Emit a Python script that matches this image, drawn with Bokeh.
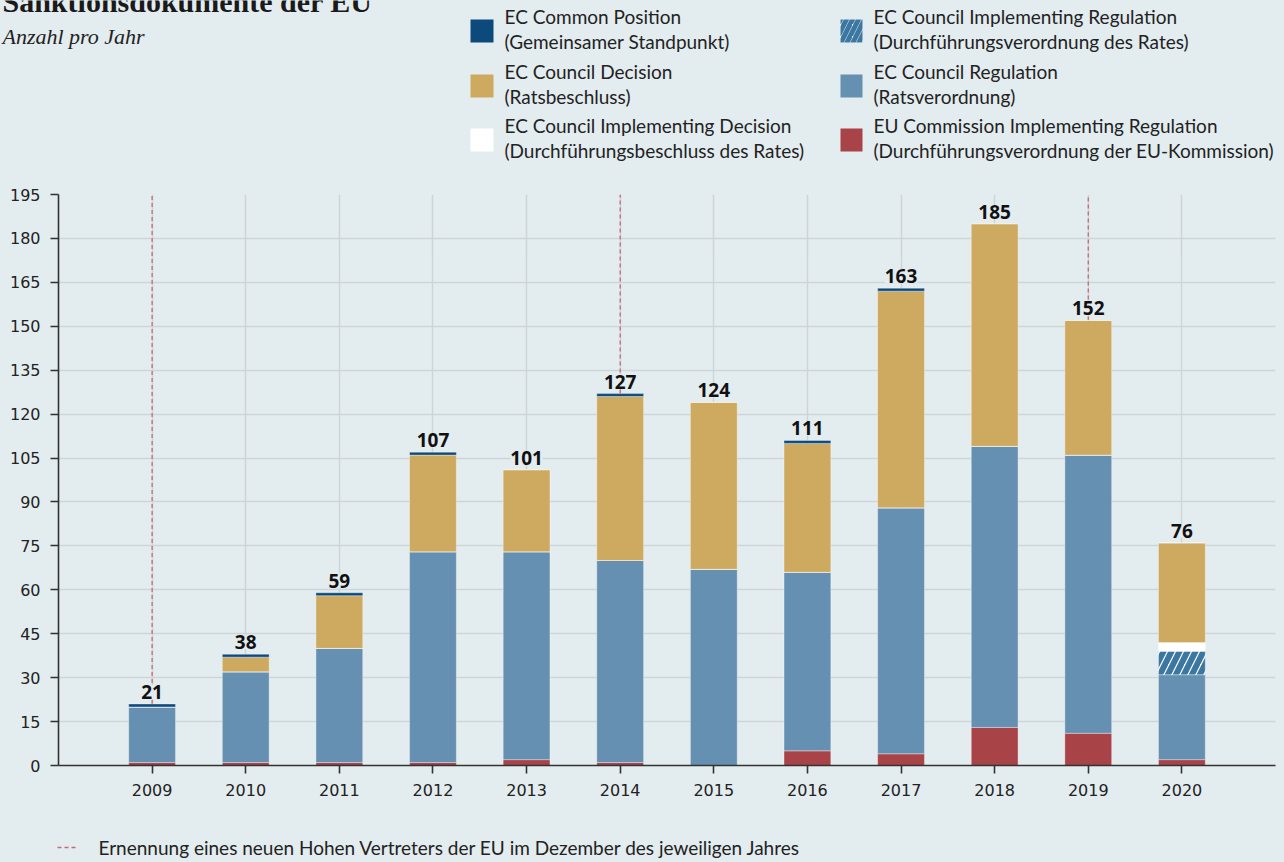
from bokeh.plotting import figure
from bokeh.layouts import column
from bokeh.models import Range1d, FixedTicker, ColumnDataSource, LabelSet
from bokeh.transform import stack
from bokeh.core.properties import value
from bokeh.embed import file_html
from bokeh.resources import INLINE

# ---------------- data ----------------
years = [2009, 2010, 2011, 2012, 2013, 2014, 2015, 2016, 2017, 2018, 2019, 2020]
commission_impl_reg = [1, 1, 1, 1, 2, 1, 0, 5, 4, 13, 11, 2]
council_regulation = [19, 31, 39, 72, 71, 69, 67, 61, 84, 96, 95, 29]
council_impl_reg = [0, 0, 0, 0, 0, 0, 0, 0, 0, 0, 0, 8]
council_impl_dec = [0, 0, 0, 0, 0, 0, 0, 0, 0, 0, 0, 3]
council_decision = [0, 5, 18, 33, 28, 56, 57, 44, 74, 76, 46, 34]
common_position = [1, 1, 1, 1, 0, 1, 0, 1, 1, 0, 0, 0]
totals = [21, 38, 59, 107, 101, 127, 124, 111, 163, 185, 152, 76]
hr_years = [2009, 2014, 2019]
yticks = [0, 15, 30, 45, 60, 75, 90, 105, 120, 135, 150, 165, 180, 195]

title = "Sanktionsdokumente der EU"
subtitle = "Anzahl pro Jahr"
legend_col1 = [("EC Common Position", "(Gemeinsamer Standpunkt)"),
               ("EC Council Decision", "(Ratsbeschluss)"),
               ("EC Council Implementing Decision", "(Durchführungsbeschluss des Rates)")]
legend_col2 = [("EC Council Implementing Regulation", "(Durchführungsverordnung des Rates)"),
               ("EC Council Regulation", "(Ratsverordnung)"),
               ("EU Commission Implementing Regulation", "(Durchführungsverordnung der EU-Kommission)")]
footnote = "Ernennung eines neuen Hohen Vertreters der EU im Dezember des jeweiligen Jahres"

# ---------------- styles ----------------
BG = "#e3ecef"
GRID = "#cdd5d9"
C_CAP = "#0d4a7c"
C_GOLD = "#cdaa5f"
C_BLUE = "#6690b1"
C_RED = "#a84347"
C_WHITE = "#ffffff"
C_HATCH = "#3b77a0"
C_HR = "#c9696e"
SANS = "Lato"
SERIF = "Liberation Serif"

W = 1284
TOP_H = 168
MAIN_H = 645
BOT_H = 862 - TOP_H - MAIN_H


def blank(h, yr):
    f = figure(width=W, height=h, x_range=Range1d(0, W), y_range=yr,
               output_backend="svg", toolbar_location=None, frame_align=False,
               min_border=0, min_border_left=0, min_border_right=0,
               min_border_top=0, min_border_bottom=0,
               background_fill_color=BG, border_fill_color=BG,
               outline_line_color=None)
    f.axis.visible = False
    f.grid.visible = False
    return f

# ---------------- header ----------------
top = blank(TOP_H, Range1d(TOP_H, 0))
top.text(x=[2], y=[1], text=[title], text_font=value(SERIF), text_font_style="bold",
         text_font_size="30px", text_color="#1a1a1a", text_baseline="alphabetic")
top.text(x=[2], y=[36], text=[subtitle], text_font=value(SERIF), text_font_style="italic",
         text_font_size="22px", text_color="#222222", text_baseline="alphabetic")

col1_colors = [C_CAP, C_GOLD, C_WHITE]
col2_colors = [C_WHITE, C_BLUE, C_RED]
row_y = [19, 74, 128]
for i in range(3):
    y0 = row_y[i]
    top.quad(left=[470], right=[493], top=[y0], bottom=[y0 + 23], fill_color=col1_colors[i], line_color=None)
    if i == 0:
        top.quad(left=[840], right=[862], top=[y0], bottom=[y0 + 23], fill_color=C_WHITE,
                 line_color=None, hatch_pattern="/", hatch_color=C_HATCH, hatch_scale=12, hatch_weight=5)
    else:
        top.quad(left=[840], right=[862], top=[y0], bottom=[y0 + 23], fill_color=col2_colors[i], line_color=None)
    for xx, lab in ((504, legend_col1[i]), (873, legend_col2[i])):
        top.text(x=[xx, xx], y=[y0 - 3, y0 + 22], text=list(lab), text_font=value(SANS),
                 text_font_size="19px", text_color="#222222", text_baseline="middle")

# ---------------- main chart ----------------
src = ColumnDataSource(dict(year=years, red=commission_impl_reg, blue=council_regulation,
                            hatch=council_impl_reg, white=council_impl_dec, gold=council_decision,
                            cap=common_position, total=totals,
                            label=[str(t) for t in totals]))

p = figure(width=W, height=MAIN_H, x_range=Range1d(2008, 2021), y_range=Range1d(0, 195),
           output_backend="svg", toolbar_location=None, frame_align=False,
           min_border_left=58, min_border_right=9, min_border_top=26, min_border_bottom=48,
           background_fill_color=BG, border_fill_color=BG, outline_line_color=None)

p.xaxis.ticker = FixedTicker(ticks=years)
p.yaxis.ticker = FixedTicker(ticks=yticks)
for ax in (p.xaxis, p.yaxis):
    ax.axis_line_color = "#333333"
    ax.axis_line_width = 1.6
    ax.major_tick_line_color = "#333333"
    ax.major_tick_line_width = 1.6
    ax.major_tick_out = 8
    ax.major_tick_in = 0
    ax.minor_tick_line_color = None
    ax.major_label_text_font = "DejaVu Sans"
    ax.major_label_text_font_size = "16px"
    ax.major_label_text_color = "#222222"
    ax.major_label_standoff = 10
p.xgrid.grid_line_color = GRID
p.ygrid.grid_line_color = GRID
p.xgrid.grid_line_width = 1.5
p.ygrid.grid_line_width = 1.5

# High representative dashed lines
hr_src = ColumnDataSource(dict(x=hr_years, y0=[totals[years.index(y)] for y in hr_years],
                               y1=[yticks[-1]] * len(hr_years)))
p.segment(x0="x", x1="x", y0="y0", y1="y1", source=hr_src, line_color=C_HR,
          line_width=1.3, line_dash="4 3")

layers = [("red", C_RED, None), ("blue", C_BLUE, None), ("hatch", C_WHITE, "/"),
          ("white", C_WHITE, None), ("gold", C_GOLD, None), ("cap", C_CAP, None)]
done = []
for name, col, hp in layers:
    kw = dict(x="year", width=0.5, bottom=stack(*done) if done else 0, top=stack(*(done + [name])),
              source=src, fill_color=col, line_color="#ffffff", line_alpha=0.35, line_width=1)
    if hp:
        kw.update(hatch_pattern=hp, hatch_color=C_HATCH, hatch_scale=16, hatch_weight=6)
    p.vbar(**kw)
    done.append(name)

labels = LabelSet(x="year", y="total", text="label", source=src, y_offset=5,
                  text_align="center", text_baseline="bottom",
                  text_font=value("Noto Sans"), text_font_style="bold", text_font_size="19px",
                  text_color="#111111", background_fill_color=BG)
p.add_layout(labels)

# ---------------- footnote ----------------
bot = blank(BOT_H, Range1d(BOT_H, 0))
bot.line(x=[57, 78], y=[34, 34], line_color=C_HR, line_width=1.3, line_dash="4 3")
bot.text(x=[98], y=[34], text=[footnote], text_font=value(SANS), text_font_size="19px",
         text_color="#222222", text_baseline="middle")

layout = column(top, p, bot, spacing=0, styles={"background-color": BG})
open("out.html", "w").write(file_html(layout, INLINE))
